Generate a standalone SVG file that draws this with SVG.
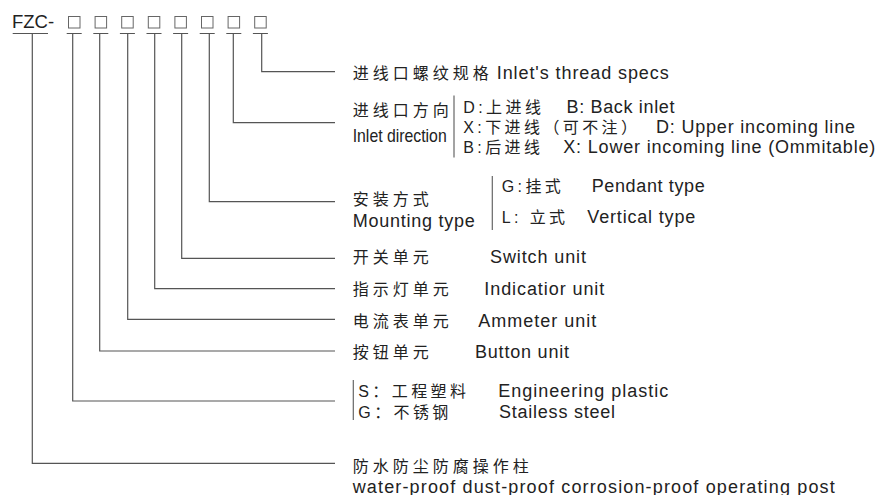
<svg xmlns="http://www.w3.org/2000/svg" width="878" height="495" viewBox="0 0 878 495">
<style>
  text { font-family: "Liberation Sans", "Noto Sans CJK SC", sans-serif; fill: #222; }
  .en { font-size: 18px; }
  .cn { font-size: 16px; letter-spacing: 4px; }
  .mx { font-size: 16px; letter-spacing: 3.4px; }
  .nar { font-size: 19px; }
  .ln { stroke: #555; stroke-width: 1.2; fill: none; }
  .bx { fill: none; stroke: #666; stroke-width: 1; }
  .sep { stroke: #666; stroke-width: 1.2; }
</style>
<g id="header">
  <text x="12" y="28" style="font-size:18.5px">FZC-</text>
  <rect class="bx" x="68.5" y="16.5" width="11.5" height="11.5"/>
  <rect class="bx" x="95.1" y="16.5" width="11.5" height="11.5"/>
  <rect class="bx" x="121.7" y="16.5" width="11.5" height="11.5"/>
  <rect class="bx" x="148.3" y="16.5" width="11.5" height="11.5"/>
  <rect class="bx" x="174.9" y="16.5" width="11.5" height="11.5"/>
  <rect class="bx" x="201.5" y="16.5" width="11.5" height="11.5"/>
  <rect class="bx" x="228.1" y="16.5" width="11.5" height="11.5"/>
  <rect class="bx" x="254.7" y="16.5" width="11.5" height="11.5"/>
</g>
<g id="connectors">
  <path class="ln" d="M12.7 33.5 H48 M66.7 33.5 H81.7 M93.3 33.5 H108.3 M119.9 33.5 H134.9 M146.5 33.5 H161.5 M173.1 33.5 H188.1 M199.7 33.5 H214.7 M226.3 33.5 H241.3 M252.9 33.5 H267.9"/>
  <path class="ln" d="M261.7 33.5 V71.7 H335"/>
  <path class="ln" d="M233.3 33.5 V122.7 H335"/>
  <path class="ln" d="M209.3 33.5 V201.7 H335"/>
  <path class="ln" d="M181.7 33.5 V258.3 H335"/>
  <path class="ln" d="M154.7 33.5 V288.7 H335"/>
  <path class="ln" d="M127.7 33.5 V319.3 H335"/>
  <path class="ln" d="M99.7 33.5 V351 H335"/>
  <path class="ln" d="M72.7 33.5 V401 H335"/>
  <path class="ln" d="M32.3 33.5 V463.3 H335"/>
</g>
<g id="thread">
  <text class="cn" x="352.7" y="78.5">进线口螺纹规格</text>
  <text class="en" x="496.7" y="78.5" textLength="172">Inlet's thread specs</text>
</g>
<g id="direction">
  <text class="cn" x="352.7" y="116">进线口方向</text>
  <text class="nar" x="352.7" y="141.7" textLength="94" lengthAdjust="spacingAndGlyphs">Inlet direction</text>
  <line class="sep" x1="454" y1="95.5" x2="454" y2="157.5"/>
  <text class="mx" x="463.3" y="113">D:上进线</text>
  <text class="en" x="566.5" y="113" textLength="108">B: Back inlet</text>
  <text class="mx" x="463.3" y="133">X:下进线（可不注）</text>
  <text class="en" x="656" y="133" textLength="199">D: Upper incoming line</text>
  <text class="mx" x="463.3" y="152.5">B:后进线</text>
  <text class="en" x="563.3" y="152.5" textLength="312">X: Lower incoming line (Ommitable)</text>
</g>
<g id="mounting">
  <text class="cn" x="352.7" y="205">安装方式</text>
  <text class="en" x="352.7" y="226.7" textLength="122">Mounting type</text>
  <line class="sep" x1="492.3" y1="176" x2="492.3" y2="230"/>
  <text class="mx" x="501.7" y="191.7">G:挂式</text>
  <text class="en" x="591.7" y="191.7" textLength="113">Pendant type</text>
  <text class="mx" x="501.7" y="223.3">L: 立式</text>
  <text class="en" x="587.3" y="223.3" textLength="108">Vertical type</text>
</g>
<g id="switch">
  <text class="cn" x="352.7" y="263.3">开关单元</text>
  <text class="en" x="490" y="263.3" textLength="96">Switch unit</text>
</g>
<g id="indicator">
  <text class="cn" x="352.7" y="295">指示灯单元</text>
  <text class="en" x="484.3" y="295" textLength="120">Indicatior unit</text>
</g>
<g id="ammeter">
  <text class="cn" x="352.7" y="327.3">电流表单元</text>
  <text class="en" x="478.3" y="327.3" textLength="118">Ammeter unit</text>
</g>
<g id="button">
  <text class="cn" x="352.7" y="358.3">按钮单元</text>
  <text class="en" x="475" y="358.3" textLength="94">Button unit</text>
</g>
<g id="material">
  <line class="sep" x1="353.3" y1="380" x2="353.3" y2="420"/>
  <text class="mx" x="358.3" y="396.5">S：工程塑料</text>
  <text class="en" x="498.3" y="396.5" textLength="170">Engineering plastic</text>
  <text class="mx" x="358.3" y="418.3">G：不锈钢</text>
  <text class="en" x="499" y="418.3" textLength="116">Stailess steel</text>
</g>
<g id="product">
  <text class="cn" x="352.7" y="471.7">防水防尘防腐操作柱</text>
  <text class="en" x="352.7" y="492.5" textLength="482">water-proof dust-proof corrosion-proof operating post</text>
</g>
</svg>
